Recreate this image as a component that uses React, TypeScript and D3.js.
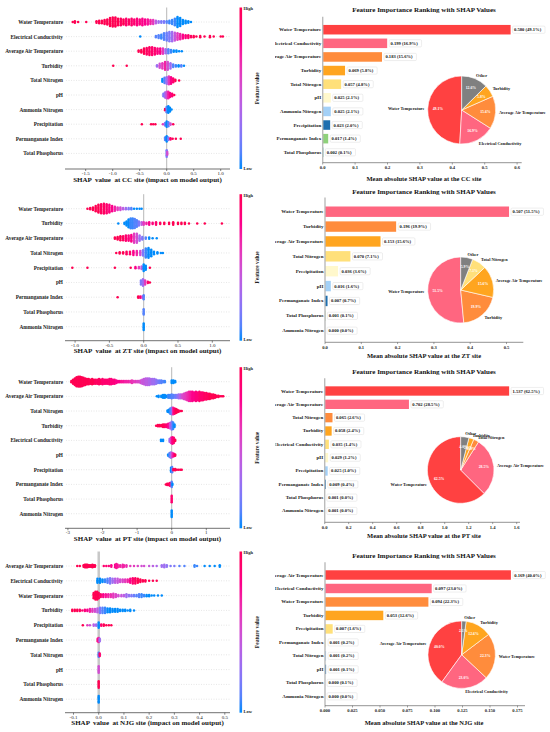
import React from 'react';
import * as d3 from 'd3';

// ---------------- DATA ----------------
// Beeswarm rows: tuples [shapValue, pointCount, featureValue(0=low,1=high)]
const ccFeatures = ['Water Temperature', 'Electrical Conductivity', 'Average Air Temperature', 'Turbidity', 'Total Nitrogen', 'pH', 'Ammonia Nitrogen', 'Precipitation', 'Permanganate Index', 'Total Phosphorus'];
const ccSwarm: number[][][] = [
  [[-1.74,1,1],[-1.70,2,1],[-1.64,1,1],[-1.49,1,1],[-1.30,2,1],[-1.25,3,1],[-1.20,3,1],[-1.15,4,1],[-1.10,5,1],[-1.05,7,1],[-1.0,8,1],[-0.95,8,1],[-0.9,6,1],[-0.85,6,0.95],[-0.8,5,1],[-0.75,6,0.9],[-0.7,5,0.95],[-0.65,6,0.9],[-0.6,5,0.9],[-0.55,6,0.85],[-0.5,5,0.85],[-0.45,6,0.8],[-0.4,5,0.8],[-0.35,5,0.75],[-0.3,4,0.7],[-0.25,4,0.6],[-0.2,3,0.4],[-0.15,2,0.3],[-0.1,2,0.2],[-0.05,2,0.2],[0.0,2,0.1],[0.05,3,0.05],[0.1,4,0.05],[0.15,6,0.05],[0.2,9,0],[0.25,7,0],[0.3,4,0],[0.35,3,0],[0.4,2,0],[0.45,1,0]],
  [[-0.49,1,0],[-0.2,2,0.1],[-0.15,3,0.1],[-0.1,4,0.05],[-0.05,6,0.1],[0,7,0.15],[0.05,8,0.2],[0.1,8,0.3],[0.15,7,0.45],[0.2,6,0.6],[0.25,5,0.7],[0.3,4,0.8],[0.35,3,0.85],[0.4,3,0.9],[0.45,2,0.95],[0.5,2,1],[0.55,1,1],[0.62,2,1],[0.7,1,1],[0.8,2,1],[0.87,1,1],[1.0,1,1],[1.04,1,1]],
  [[-0.52,2,1],[-0.47,3,1],[-0.42,5,1],[-0.37,6,0.95],[-0.32,7,0.95],[-0.27,7,0.9],[-0.22,6,0.9],[-0.17,5,0.85],[-0.12,5,0.8],[-0.07,5,0.6],[-0.02,4,0.3],[0.03,4,0.1],[0.08,3,0.05],[0.13,2,0],[0.18,2,0],[0.23,1,0],[0.28,1,0]],
  [[-0.99,1,1],[-0.74,1,1],[-0.18,2,0.3],[-0.13,4,0.5],[-0.08,5,0.6],[-0.03,7,0.7],[0.02,7,0.5],[0.07,5,0.3],[0.12,3,0.1],[0.17,2,0.05],[0.22,2,0],[0.27,2,0.1],[0.32,1,0]],
  [[-0.08,3,0],[-0.04,5,0.1],[0,6,0.3],[0.04,7,0.6],[0.08,6,0.8],[0.12,4,0.9],[0.16,2,1],[0.23,1,1]],
  [[-0.06,3,0.2],[-0.03,5,0.3],[0,6,0.5],[0.03,6,0.7],[0.06,4,0.8],[0.1,3,0.9],[0.14,1,1]],
  [[-0.03,2,1],[0,5,0.1],[0.03,6,0],[0.06,4,0],[0.09,1,0]],
  [[-0.46,1,1],[-0.29,1,1],[-0.25,1,1],[-0.21,1,1],[-0.07,1,0.6],[-0.03,3,0.2],[0,5,0],[0.03,4,0.1],[0.07,2,0.5],[0.12,1,1]],
  [[-0.03,3,0.1],[0,5,0],[0.03,3,0.2],[0.07,2,0.9],[0.11,1,1],[0.17,1,1],[0.26,1,1]],
  [[0,6,0.2],[0.01,3,0.5]],
];

const ztFeatures = ['Water Temperature', 'Turbidity', 'Average Air Temperature', 'Total Nitrogen', 'Precipitation', 'pH', 'Permanganate Index', 'Total Phosphorus', 'Ammonia Nitrogen'];
const ztSwarm: number[][][] = [
  [[-0.82,1,1],[-0.78,2,1],[-0.74,3,1],[-0.7,5,1],[-0.66,7,1],[-0.62,8,0.95],[-0.58,9,0.95],[-0.54,8,0.9],[-0.5,7,0.85],[-0.46,5,0.8],[-0.42,4,0.7],[-0.38,3,0.6],[-0.34,3,0.5],[-0.3,2,0.4],[-0.26,2,0.3],[-0.22,2,0.2],[-0.18,2,0.1],[-0.14,1,0],[-0.1,1,0],[-0.06,1,0],[-0.03,1,0]],
  [[-0.37,1,0],[-0.28,2,0],[-0.25,4,0],[-0.22,7,0],[-0.19,9,0.05],[-0.16,9,0.05],[-0.13,8,0.1],[-0.1,6,0.1],[-0.07,4,0.2],[-0.03,3,0.4],[0.0,3,0.6],[0.04,2,0.7],[0.08,3,0.8],[0.13,2,0.85],[0.18,3,0.9],[0.24,2,0.95],[0.3,2,1],[0.37,2,1],[0.43,3,1],[0.5,2,1],[0.55,2,1],[0.6,2,1],[0.66,1,1],[0.78,1,1],[0.89,1,1],[1.14,1,1]],
  [[-0.42,2,1],[-0.38,3,1],[-0.34,4,1],[-0.3,4,0.95],[-0.26,5,0.9],[-0.22,5,0.85],[-0.18,6,0.8],[-0.14,8,0.6],[-0.1,8,0.5],[-0.06,5,0.3],[-0.02,3,0.2],[0.03,2,0.1],[0.08,2,0],[0.13,1,0],[0.19,1,0]],
  [[-0.4,1,1],[-0.35,2,1],[-0.3,2,1],[-0.25,3,0.95],[-0.2,3,0.9],[-0.15,4,0.8],[-0.1,4,0.7],[-0.05,4,0.5],[-0.01,5,0.2],[0.03,8,0.05],[0.07,9,0],[0.11,6,0],[0.15,3,0],[0.2,2,0],[0.25,1,0],[0.28,1,0]],
  [[-1.04,1,1],[-0.82,1,1],[-0.42,1,1],[-0.19,1,1],[-0.12,2,0.8],[-0.07,2,0.6],[-0.03,3,0.4],[0,6,0],[0.03,4,0],[0.09,1,1]],
  [[-0.04,4,0.2],[-0.01,6,0.3],[0.02,4,0.6],[0.06,2,0.9],[0.09,1,1]],
  [[-0.38,1,1],[-0.08,2,1],[-0.05,2,0.9],[-0.02,2,0.6],[0,4,0.1]],
  [[0,5,0.1]],
  [[0,6,0]],
];

const ptFeatures = ['Water Temperature', 'Average Air Temperature', 'Total Nitrogen', 'Turbidity', 'Electrical Conductivity', 'pH', 'Precipitation', 'Permanganate Index', 'Total Phosphorus', 'Ammonia Nitrogen'];
const ptSwarm: number[][][] = [
  [[-2.9,2,1],[-2.85,4,1],[-2.8,6,1],[-2.75,8,1],[-2.7,9,1],[-2.65,9,1],[-2.6,8,1],[-2.55,7,1],[-2.5,6,1],[-2.45,5,1],[-2.4,5,1],[-2.35,4,1],[-2.3,5,1],[-2.25,4,1],[-2.2,4,0.95],[-2.15,4,0.95],[-2.1,5,0.95],[-2.05,4,0.95],[-2.0,5,0.9],[-1.95,4,0.9],[-1.9,4,0.9],[-1.85,4,0.9],[-1.8,5,0.9],[-1.75,5,0.85],[-1.7,4,0.85],[-1.65,4,0.85],[-1.6,3,0.8],[-1.55,2,0.8],[-1.5,2,0.8],[-1.45,2,0.75],[-1.4,2,0.75],[-1.35,2,0.7],[-1.3,2,0.7],[-1.25,2,0.7],[-1.2,2,0.65],[-1.15,3,0.65],[-1.1,2,0.6],[-1.05,2,0.6],[-1.0,2,0.55],[-0.95,2,0.55],[-0.9,3,0.5],[-0.85,4,0.45],[-0.8,5,0.45],[-0.75,6,0.4],[-0.7,6,0.4],[-0.65,6,0.35],[-0.6,5,0.35],[-0.55,5,0.3],[-0.5,5,0.3],[-0.45,4,0.25],[-0.4,3,0.2],[-0.35,3,0.15],[-0.3,3,0.1],[-0.25,2,0.1],[-0.2,2,0.05],[0.0,3,0],[0.05,3,0],[0.1,2,0]],
  [[-0.43,1,0],[-0.38,2,0],[-0.3,2,0],[-0.25,3,0],[-0.2,3,0],[-0.15,2,0],[-0.1,3,0.05],[-0.05,3,0.05],[0,4,0.1],[0.05,3,0.1],[0.1,3,0.15],[0.15,3,0.2],[0.2,4,0.3],[0.25,4,0.4],[0.3,4,0.5],[0.35,5,0.55],[0.4,6,0.6],[0.45,7,0.65],[0.5,8,0.7],[0.55,8,0.75],[0.6,8,0.8],[0.65,7,0.8],[0.7,8,0.85],[0.75,7,0.85],[0.8,8,0.9],[0.85,7,0.9],[0.9,7,0.9],[0.95,6,0.95],[1.0,6,0.95],[1.05,5,0.95],[1.1,5,1],[1.15,4,1],[1.2,4,1],[1.25,3,1],[1.3,2,1],[1.35,2,1],[1.4,1,1],[1.45,1,1],[1.49,1,1]],
  [[-0.12,2,0],[-0.08,3,0],[-0.04,5,0.05],[0,6,0.2],[0.04,6,0.7],[0.08,5,0.9],[0.12,4,1],[0.16,3,1],[0.2,2,1],[0.25,1,1],[0.29,1,1]],
  [[-0.45,1,1],[-0.4,2,1],[-0.35,2,1],[-0.3,2,1],[-0.25,3,1],[-0.2,3,0.95],[-0.15,3,0.9],[-0.1,4,0.8],[-0.05,5,0.5],[0,7,0.2],[0.04,6,0.05],[0.08,3,0]],
  [[-0.31,2,0],[-0.25,2,0],[-0.06,3,0.3],[-0.02,5,0.6],[0.02,6,0.8],[0.06,5,0.9],[0.1,2,1]],
  [[-0.1,2,0],[-0.06,4,0.1],[-0.02,5,0.3],[0.02,4,0.6],[0.06,3,0.8],[0.1,2,1]],
  [[-0.02,4,0],[0.01,5,0.1],[0.05,2,1],[0.1,2,1],[0.15,1,1],[0.2,1,1],[0.25,1,1],[0.29,1,1]],
  [[-0.17,1,1],[-0.13,2,1],[-0.09,2,1],[-0.05,3,0.9],[0,5,0.1],[0.02,2,0]],
  [[0,6,0.9]],
  [[0,6,0]],
];

const njgFeatures = ['Average Air Temperature', 'Electrical Conductivity', 'Water Temperature', 'Turbidity', 'Precipitation', 'Permanganate Index', 'Total Nitrogen', 'pH', 'Total Phosphorus', 'Ammonia Nitrogen'];
const njgSwarm: number[][][] = [
  [[-0.085,1,1],[-0.075,1,1],[-0.06,2,1],[-0.055,3,1],[-0.05,3,1],[-0.045,3,1],[-0.04,2,1],[-0.035,2,1],[-0.03,2,1],[-0.025,3,1],[-0.02,2,1],[-0.015,2,1],[0.02,1,0.9],[0.03,1,0.9],[0.04,1,0.85],[0.05,2,0.8],[0.065,3,0.8],[0.07,4,0.75],[0.075,3,0.75],[0.085,2,0.7],[0.095,3,0.7],[0.1,2,0.7],[0.11,2,0.65],[0.125,1,0.6],[0.14,1,0.6],[0.155,1,0.55],[0.17,1,0.5],[0.18,1,0.5],[0.2,1,0.45],[0.215,1,0.4],[0.23,1,0.35],[0.25,2,0.3],[0.26,3,0.3],[0.27,2,0.25],[0.285,1,0.2],[0.3,1,0.2],[0.32,1,0.1],[0.34,1,0.1],[0.38,2,0.05],[0.39,1,0.05],[0.42,1,0],[0.44,1,0],[0.46,1,0],[0.48,2,0]],
  [[-0.005,4,0],[0.005,4,0],[0.015,3,0],[0.025,3,0.05],[0.035,4,0.1],[0.045,5,0.2],[0.055,4,0.3],[0.065,4,0.4],[0.075,4,0.45],[0.085,3,0.5],[0.095,3,0.55],[0.105,3,0.6],[0.115,3,0.7],[0.125,4,0.8],[0.135,5,0.9],[0.145,5,0.95],[0.155,4,1],[0.165,3,1],[0.175,2,1],[0.185,2,1],[0.2,1,1],[0.215,1,1],[0.23,1,1]],
  [[-0.02,5,1],[-0.013,7,1],[-0.006,7,1],[0.0,5,1],[0.008,3,0.9],[0.018,3,0.8],[0.028,3,0.75],[0.038,3,0.7],[0.048,3,0.65],[0.058,4,0.6],[0.068,3,0.55],[0.078,2,0.5],[0.09,2,0.45],[0.1,2,0.4],[0.11,3,0.3],[0.12,2,0.25],[0.13,2,0.2],[0.14,2,0.15],[0.15,2,0.1],[0.16,3,0.1],[0.17,3,0.05],[0.18,2,0.05],[0.19,2,0],[0.2,2,0],[0.21,1,0],[0.22,1,0],[0.235,1,0],[0.25,1,0]],
  [[-0.105,2,1],[-0.095,2,1],[-0.085,2,1],[-0.075,2,0.95],[-0.065,1,0.9],[-0.055,2,0.85],[-0.045,2,0.8],[-0.035,3,0.7],[-0.025,3,0.6],[-0.015,3,0.5],[-0.005,4,0.4],[0.005,5,0.2],[0.015,5,0.1],[0.025,5,0.05],[0.035,4,0],[0.045,4,0],[0.055,3,0],[0.065,3,0],[0.075,3,0],[0.085,2,0],[0.095,2,0],[0.105,2,0],[0.115,1,0],[0.125,2,0],[0.14,1,0]],
  [[-0.063,1,1],[-0.045,1,0.6],[-0.035,1,0.5],[-0.02,2,0.4],[-0.01,2,0.3],[0,5,0],[0.01,2,0.9],[0.02,2,1],[0.03,1,1],[0.04,1,1],[0.05,1,1]],
  [[-0.004,3,0.9],[0.0,4,0.7],[0.004,3,0.3]],
  [[0,4,0.1],[0.004,3,0.9]],
  [[0,6,0.5]],
  [[0,6,1]],
  [[0,6,0]],
];

// Bar / pie data
const ccBarFeatures = ['Water Temperature', 'Electrical Conductivity', 'Average Air Temperature', 'Turbidity', 'Total Nitrogen', 'pH', 'Ammonia Nitrogen', 'Precipitation', 'Permanganate Index', 'Total Phosphorus'];
const ccBarValues = [0.580, 0.199, 0.183, 0.069, 0.057, 0.025, 0.025, 0.023, 0.017, 0.002];
const ccBarPct = [49.1, 16.9, 15.6, 5.8, 4.8, 2.1, 2.1, 2.0, 1.4, 0.1];
const ccPieLabels = ['Water Temperature', 'Electrical Conductivity', 'Average Air Temperature', 'Turbidity', 'Other'];
const ccPieValues = [49.1, 16.9, 15.6, 5.8, 12.6];

const ztBarFeatures = ['Water Temperature', 'Turbidity', 'Average Air Temperature', 'Total Nitrogen', 'Precipitation', 'pH', 'Permanganate Index', 'Total Phosphorus', 'Ammonia Nitrogen'];
const ztBarValues = [0.507, 0.196, 0.153, 0.070, 0.036, 0.016, 0.007, 0.001, 0.000];
const ztBarPct = [51.5, 19.9, 15.6, 7.1, 3.6, 1.6, 0.7, 0.1, 0.0];
const ztPieLabels = ['Water Temperature', 'Turbidity', 'Average Air Temperature', 'Total Nitrogen', 'Other'];
const ztPieValues = [51.5, 19.9, 15.6, 7.1, 5.9];

const ptBarFeatures = ['Water Temperature', 'Average Air Temperature', 'Total Nitrogen', 'Turbidity', 'Electrical Conductivity', 'pH', 'Precipitation', 'Permanganate Index', 'Total Phosphorus', 'Ammonia Nitrogen'];
const ptBarValues = [1.537, 0.702, 0.065, 0.058, 0.035, 0.029, 0.025, 0.009, 0.001, 0.001];
const ptBarPct = [62.5, 28.5, 2.6, 2.4, 1.4, 1.2, 1.0, 0.4, 0.0, 0.0];
const ptPieLabels = ['Water Temperature', 'Average Air Temperature', 'Total Nitrogen', 'Turbidity', 'Other'];
const ptPieValues = [62.5, 28.5, 2.6, 2.4, 4.0];

const njgBarFeatures = ['Average Air Temperature', 'Electrical Conductivity', 'Water Temperature', 'Turbidity', 'Precipitation', 'Permanganate Index', 'Total Nitrogen', 'pH', 'Total Phosphorus', 'Ammonia Nitrogen'];
const njgBarValues = [0.169, 0.097, 0.094, 0.053, 0.007, 0.001, 0.001, 0.001, 0.000, 0.000];
const njgBarPct = [40.0, 23.0, 22.3, 12.6, 1.6, 0.2, 0.2, 0.1, 0.1, 0.0];
const njgPieLabels = ['Average Air Temperature', 'Electrical Conductivity', 'Water Temperature', 'Turbidity', 'Other'];
const njgPieValues = [40.0, 23.0, 22.3, 12.6, 2.1];

// ---------------- STYLE / LAYOUT ----------------
const FONT = "'Liberation Serif', 'Times New Roman', serif";
const palette = ['#FF4141', '#FF6680', '#FF8C3C', '#FFA51F', '#FFE07A', '#FFF8CC', '#A3D0F7', '#1F6FAF', '#8FD17A', '#3AAFA9', '#999999'];
const otherColor = '#808080';
const shapColor = d3.interpolateHcl('#008bfb', '#ff0052');

const swarmPanels = [
  { site: 'CC', features: ccFeatures, swarm: ccSwarm, firstRow: 22, step: 14.6, axisY: 169, domain: [-1.883, 1.172], ticks: [-1.5, -1, -0.5, 0, 0.5, 1], fmt: '.1f' },
  { site: 'ZT', features: ztFeatures, swarm: ztSwarm, firstRow: 208.7, step: 14.75, axisY: 340.7, domain: [-1.147, 1.258], ticks: [-1, -0.5, 0, 0.5, 1], fmt: '.1f' },
  { site: 'PT', features: ptFeatures, swarm: ptSwarm, firstRow: 381.7, step: 14.67, axisY: 528.3, domain: [-3.084, 1.685], ticks: [-3, -2, -1, 0, 1], fmt: 'd' },
  { site: 'NJG', features: njgFeatures, swarm: njgSwarm, firstRow: 566, step: 14.8, axisY: 712.7, domain: [-0.1337, 0.5206], ticks: [-0.1, 0, 0.1, 0.2, 0.3, 0.4, 0.5], fmt: '.1f' },
];

const barPanels = [
  { site: 'CC', features: ccBarFeatures, values: ccBarValues, pct: ccBarPct, pieLabels: ccPieLabels, pieValues: ccPieValues, x0: 322.7, k: 324, firstRow: 29.7, step: 13.62, axisY: 162.7, axisEnd: 521.7, ticks: [0, 0.1, 0.2, 0.3, 0.4, 0.5, 0.6], fmt: '.1f', titleY: 9.7, labelY: 178.3, pie: [461.7, 110, 34], offset: 0 },
  { site: 'ZT', features: ztBarFeatures, values: ztBarValues, pct: ztBarPct, pieLabels: ztPieLabels, pieValues: ztPieValues, x0: 325, k: 363, firstRow: 211.7, step: 14.875, axisY: 342.3, axisEnd: 523.3, ticks: [0, 0.1, 0.2, 0.3, 0.4, 0.5], fmt: '.1f', titleY: 191.7, labelY: 355, pie: [460.7, 290, 33], offset: 1 },
  { site: 'PT', features: ptBarFeatures, values: ptBarValues, pct: ptBarPct, pieLabels: ptPieLabels, pieValues: ptPieValues, x0: 324.7, k: 120, firstRow: 391, step: 13.33, axisY: 522.3, axisEnd: 520, ticks: [0, 0.2, 0.4, 0.6, 0.8, 1.0, 1.2, 1.4, 1.6], fmt: '.1f', titleY: 371.7, labelY: 535, pie: [460.7, 470, 33.3], offset: 0 },
  { site: 'NJG', features: njgBarFeatures, values: njgBarValues, pct: njgBarPct, pieLabels: njgPieLabels, pieValues: njgPieValues, x0: 325, k: 1100, firstRow: 575, step: 13.48, axisY: 705.7, axisEnd: 525, ticks: [0, 0.025, 0.05, 0.075, 0.1, 0.125, 0.15, 0.175], fmt: '.3f', titleY: 555.7, labelY: 722.3, pie: [461.7, 654.7, 33.7], offset: 0 },
];

const fmtTick = (f: string) => (v: number) => d3.format(f)(v).replace('\u2212', '-');

function SwarmPanel({ p, idx }: { p: any; idx: number }) {
  const x = d3.scaleLinear().domain(p.domain).range([65, 230]);
  const rowY = (i: number) => p.firstRow + i * p.step;
  const cbTop = p.firstRow - 14.5;
  const dots: any[] = [];
  p.swarm.forEach((row: number[][], ri: number) => {
    const cy = rowY(ri);
    row.forEach(([v, n, c]) => {
      const s = Math.min(1.3, 11 / Math.max(n, 1));
      for (let i = 0; i < n; i++) {
        const sign = i % 2 === 0 ? -1 : 1;
        const off = n % 2 === 0 ? sign * (Math.floor(i / 2) + 0.5) * s : Math.ceil(i / 2) * sign * s;
        dots.push({ x: x(v), y: cy + off, c });
      }
    });
  });
  const gradId = `cb${idx}`;
  const tf = fmtTick(p.fmt);
  return (
    <g>
      <defs>
        <linearGradient id={gradId} x1="0" y1="1" x2="0" y2="0">
          {d3.range(0, 11).map((i) => (
            <stop key={i} offset={`${i * 10}%`} stopColor={shapColor(i / 10)} />
          ))}
        </linearGradient>
      </defs>
      {p.features.map((f: string, i: number) => (
        <g key={f}>
          <line x1={66} x2={230} y1={rowY(i)} y2={rowY(i)} stroke="#cccccc" strokeWidth={0.5} strokeDasharray="1,1.5" />
          <text x={63} y={rowY(i)} textAnchor="end" dominantBaseline="central" fontFamily={FONT} fontWeight="bold" fontSize={5.3} fill="#222">{f}</text>
        </g>
      ))}
      <line x1={x(0)} x2={x(0)} y1={cbTop} y2={p.axisY} stroke={idx === 3 ? '#c8c8c8' : '#999'} strokeWidth={idx === 3 ? 2.5 : 0.7} />
      {dots.map((d, i) => (
        <circle key={i} cx={d.x} cy={d.y} r={1.25} fill={shapColor(d.c)} />
      ))}
      <line x1={65} x2={230} y1={p.axisY} y2={p.axisY} stroke="#333" strokeWidth={0.7} />
      {p.ticks.map((t: number) => (
        <g key={t}>
          <line x1={x(t)} x2={x(t)} y1={p.axisY} y2={p.axisY + 2} stroke="#333" strokeWidth={0.6} />
          <text x={x(t)} y={p.axisY + 4.5} textAnchor="middle" dominantBaseline="central" fontFamily={FONT} fontSize={5} fill="#222">{tf(t)}</text>
        </g>
      ))}
      <text x={147.5} y={p.axisY + 10.5} textAnchor="middle" dominantBaseline="central" fontFamily={FONT} fontWeight="bold" fontSize={7} fill="#111" style={{ whiteSpace: 'pre' }}>{`SHAP  value  at ${p.site} site (impact on model output)`}</text>
      <rect x={239.5} y={cbTop} width={2.6} height={p.axisY - cbTop} fill={`url(#${gradId})`} />
      <text x={243.5} y={cbTop + 1} dominantBaseline="central" fontFamily={FONT} fontWeight="bold" fontSize={4.5} fill="#222">High</text>
      <text x={243.5} y={p.axisY - 1} dominantBaseline="central" fontFamily={FONT} fontWeight="bold" fontSize={4.5} fill="#222">Low</text>
      <text transform={`translate(257,${(cbTop + p.axisY) / 2}) rotate(-90)`} textAnchor="middle" dominantBaseline="central" fontFamily={FONT} fontWeight="bold" fontSize={5.5} fill="#222">Feature value</text>
    </g>
  );
}

function BarPanel({ p, idx }: { p: any; idx: number }) {
  const x = d3.scaleLinear().domain([0, (p.axisEnd - p.x0) / p.k]).range([p.x0, p.axisEnd]);
  const rowY = (i: number) => p.firstRow + i * p.step;
  const bh = p.step * 0.7;
  const tf = fmtTick(p.fmt);
  const [cx, cy, r] = p.pie;
  const pieColors = p.pieLabels.map((l: string, i: number) => (l === 'Other' ? otherColor : palette[i + p.offset]));
  const arcs = d3.pie<number>().sort(null).startAngle(0).endAngle(-2 * Math.PI)(p.pieValues);
  const arcGen = d3.arc<any>().innerRadius(0).outerRadius(r);
  return (
    <g>
      <text x={424} y={p.titleY} textAnchor="middle" dominantBaseline="central" fontFamily={FONT} fontWeight="bold" fontSize={7} fill="#111">Feature Importance Ranking with SHAP Values</text>
      <g clipPath="url(#rightClip)">
        {p.features.map((f: string, i: number) => (
          <text key={f} x={p.x0 - 1.5} y={rowY(i)} textAnchor="end" dominantBaseline="central" fontFamily={FONT} fontWeight="bold" fontSize={5} fill="#222">{f}</text>
        ))}
      </g>
      {p.values.map((v: number, i: number) => {
        const label = `${v.toFixed(3)} (${p.pct[i].toFixed(1)}%)`;
        const bx = x(v) + 2;
        return (
          <g key={i}>
            <rect x={p.x0} y={rowY(i) - bh / 2} width={Math.max(0, x(v) - p.x0)} height={bh} fill={palette[i + p.offset]} />
            <rect x={bx} y={rowY(i) - 3.6} width={label.length * 2.3 + 2.5} height={7.2} rx={1} fill="#fff" stroke="#dddddd" strokeWidth={0.5} />
            <text x={bx + 1.4} y={rowY(i)} dominantBaseline="central" fontFamily={FONT} fontWeight="bold" fontSize={4.6} fill="#111">{label}</text>
          </g>
        );
      })}
      <line x1={p.x0} x2={p.x0} y1={p.firstRow - p.step * 0.95} y2={p.axisY} stroke="#bbbbbb" strokeWidth={1.4} />
      <line x1={p.x0} x2={p.axisEnd} y1={p.axisY} y2={p.axisY} stroke="#666" strokeWidth={0.7} />
      {p.ticks.map((t: number) => (
        <g key={t}>
          <line x1={x(t)} x2={x(t)} y1={p.axisY} y2={p.axisY + 1.8} stroke="#444" strokeWidth={0.5} />
          <text x={x(t)} y={p.axisY + 4.8} textAnchor="middle" dominantBaseline="central" fontFamily={FONT} fontWeight="bold" fontSize={4.6} fill="#222">{tf(t)}</text>
        </g>
      ))}
      <text x={424} y={p.labelY} textAnchor="middle" dominantBaseline="central" fontFamily={FONT} fontWeight="bold" fontSize={6.5} fill="#111">{`Mean absolute SHAP value at the ${p.site} site`}</text>
      {arcs.map((a, i) => (
        <path key={i} d={arcGen(a) as string} transform={`translate(${cx},${cy})`} fill={pieColors[i]} stroke="#fff" strokeWidth={0.6} />
      ))}
      {arcs.map((a, i) => {
        const mid = (a.startAngle + a.endAngle) / 2;
        const lx = cx + 1.1 * r * Math.sin(mid);
        const ly = cy - 1.1 * r * Math.cos(mid);
        const px = cx + 0.7 * r * Math.sin(mid);
        const py = cy - 0.7 * r * Math.cos(mid);
        return (
          <g key={i}>
            <text x={lx} y={ly} textAnchor={Math.sin(mid) >= 0 ? 'start' : 'end'} dominantBaseline="central" fontFamily={FONT} fontWeight="bold" fontSize={4.3} fill="#222">{p.pieLabels[i]}</text>
            <text x={px} y={py} textAnchor="middle" dominantBaseline="central" fontFamily={FONT} fontWeight="bold" fontSize={3.8} fill="#fff">{`${p.pieValues[i].toFixed(1)}%`}</text>
          </g>
        );
      })}
    </g>
  );
}

export default function App() {
  return (
    <svg width={550} height={732} style={{ position: 'absolute', left: 0, top: 0, background: '#fff' }}>
      <defs>
        <clipPath id="rightClip">
          <rect x={275} y={0} width={275} height={732} />
        </clipPath>
      </defs>
      <rect x={0} y={0} width={550} height={732} fill="#fff" />
      {swarmPanels.map((p, i) => (
        <SwarmPanel key={p.site} p={p} idx={i} />
      ))}
      {barPanels.map((p, i) => (
        <BarPanel key={p.site} p={p} idx={i} />
      ))}
    </svg>
  );
}
